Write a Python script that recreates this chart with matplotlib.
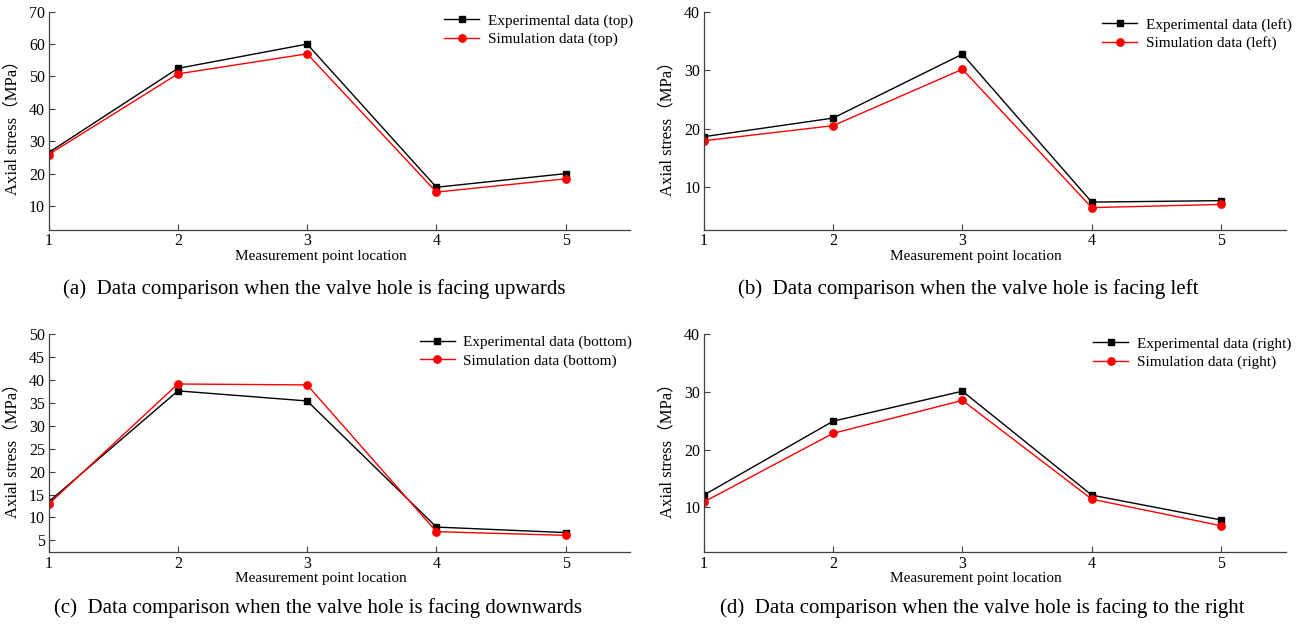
import matplotlib
matplotlib.use("Agg")
import matplotlib.pyplot as plt

plt.rcParams['font.family'] = ['Liberation Serif', 'Noto Sans CJK SC']

# Measurement points along the pipe
points = [1, 2, 3, 4, 5]

# Axial stress (MPa), experiment vs. simulation, per valve-hole orientation
exp_top = [26.5, 52.5, 60.0, 15.8, 20.0]
sim_top = [25.9, 50.8, 57.0, 14.3, 18.4]

exp_left = [18.6, 21.8, 32.8, 7.35, 7.6]
sim_left = [17.9, 20.5, 30.2, 6.4, 6.95]

exp_bottom = [13.4, 37.6, 35.4, 7.9, 6.7]
sim_bottom = [12.9, 39.1, 38.9, 6.9, 6.1]

exp_right = [12.1, 24.9, 30.1, 12.1, 7.8]
sim_right = [10.9, 22.8, 28.5, 11.4, 6.8]

orientations = ['top', 'left', 'bottom', 'right']
captions = [
    '(a)  Data comparison when the valve hole is facing upwards',
    '(b)  Data comparison when the valve hole is facing left',
    '(c)  Data comparison when the valve hole is facing downwards',
    '(d)  Data comparison when the valve hole is facing to the right',
]
y_ticks = [
    [10, 20, 30, 40, 50, 60, 70],
    [10, 20, 30, 40],
    [5, 10, 15, 20, 25, 30, 35, 40, 45, 50],
    [10, 20, 30, 40],
]
y_limits = [(2.6, 70), (2.55, 40), (2.4, 50), (2.2, 40)]
experimental = [exp_top, exp_left, exp_bottom, exp_right]
simulated = [sim_top, sim_left, sim_bottom, sim_right]

W, H = 1309, 625
fig = plt.figure(figsize=(W / 100, H / 100), dpi=100)

# axes boxes in pixels: left, top, right, bottom
boxes = [
    (48.6, 11.7, 630.3, 230.0),
    (703.7, 12.3, 1285.8, 230.0),
    (48.6, 334.0, 630.3, 552.3),
    (703.7, 334.0, 1285.8, 552.3),
]
# legend anchor (pixels): left of handle, top of first row
legend_anchor = [(444, 14.0), (1102, 18.0), (419.6, 335.5), (1093.3, 337.0)]
caption_pos = [(314, 289), (968, 289), (318, 608), (982, 608)]

axis_color = '#404040'
fs = 11

for i in range(4):
    l, t, r, b = boxes[i]
    ax = fig.add_axes([l / W, 1 - b / H, (r - l) / W, (b - t) / H])
    ax.plot(points, experimental[i], color='black', lw=1.0, marker='s',
            markersize=4.8, label=f'Experimental data ({orientations[i]})')
    ax.plot(points, simulated[i], color='red', lw=1.0, marker='o',
            markersize=5.3, label=f'Simulation data ({orientations[i]})')
    ax.set_xlim(1, 5.5)
    ax.set_ylim(*y_limits[i])
    ax.set_xticks(points)
    ax.set_yticks(y_ticks[i])
    for side in ('top', 'right'):
        ax.spines[side].set_visible(False)
    for side in ('left', 'bottom'):
        ax.spines[side].set_color(axis_color)
        ax.spines[side].set_linewidth(0.9)
    ax.tick_params(direction='in', length=4, width=0.8, color=axis_color,
                   labelsize=11.5, pad=2.5)
    ax.set_xlabel('Measurement point location', fontsize=fs)
    ax.xaxis.set_label_coords(0.468, -0.09)
    ax.set_ylabel('Axial stress（MPa）', fontsize=12)
    ax.yaxis.set_label_coords(-0.049, 0.486)

    lx, ly = legend_anchor[i]
    ax.legend(loc='upper left', bbox_to_anchor=(lx / W, 1 - ly / H),
              bbox_transform=fig.transFigure, frameon=False, fontsize=fs,
              borderpad=0, borderaxespad=0, handlelength=2.3,
              handletextpad=0.55, labelspacing=0.3)

    cx, cy = caption_pos[i]
    fig.text(cx / W, 1 - cy / H, captions[i], ha='center', va='center',
             fontsize=15)

fig.savefig('out.png', dpi=100)
